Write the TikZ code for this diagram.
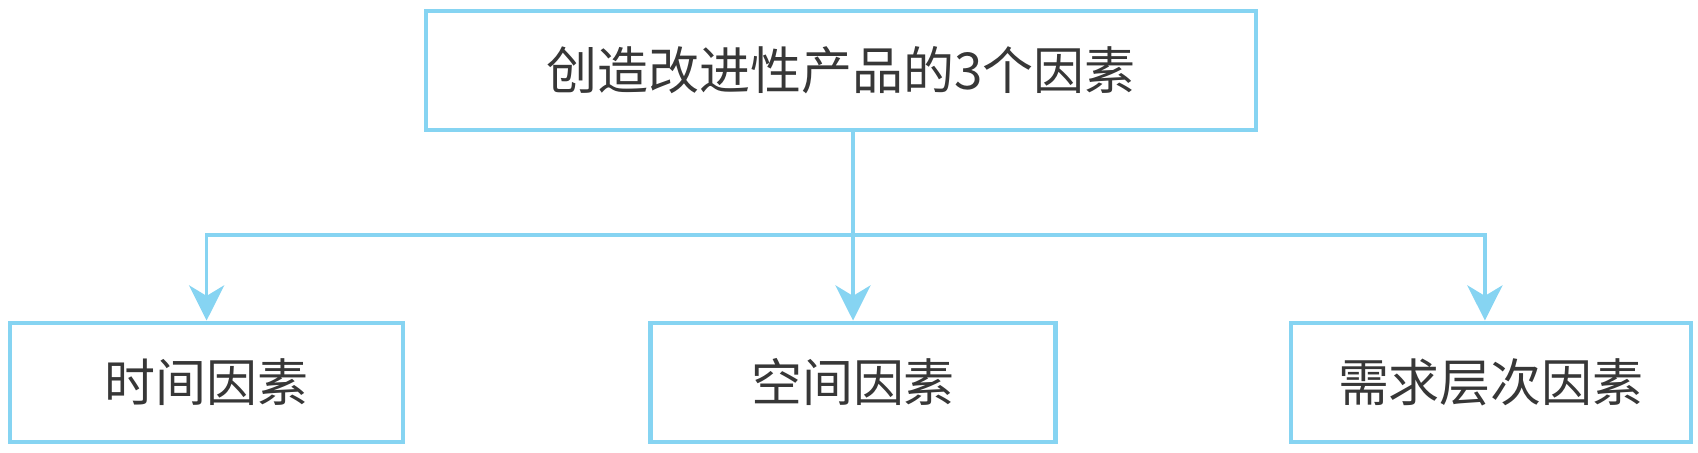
\documentclass[tikz,border=0pt]{standalone}
\usepackage{fontspec}
\setmainfont{Noto Sans CJK SC}
\usepackage{tikz}
\usetikzlibrary{arrows.meta,positioning}

\definecolor{skyline}{RGB}{134,212,242}
\definecolor{inkgray}{RGB}{55,55,55}

\begin{document}
\begin{tikzpicture}[
        every node/.style={draw=skyline, line width=1.25pt, text=inkgray, align=center,
            minimum height=1.19cm, font=\fontsize{14.5}{17}\selectfont},
        factor/.style={minimum width=4cm},
        link/.style={draw=skyline, line width=1pt},
        arr/.style={link, -{Stealth[length=10pt, width=10pt, inset=3pt]}}
    ]
    \useasboundingbox (0,0) rectangle (16.98,4.52);

    % Nodes
    \node (goal) at (8.41,3.816) [minimum width=8.3cm] {创造改进性产品的3个因素};

    \node (space) at (8.53,0.698) [factor, minimum width=4.05cm] {空间因素};
    \node (time) [factor, left=2.43cm of space, minimum width=3.93cm] {时间因素};
    \node (need) [factor, right=2.31cm of space] {需求层次因素};

    \coordinate (fork) at (8.53,2.17);

    % Edges
    \draw[arr] (goal.south -| space.north) -- (space.north);
    \draw[arr] (fork) -| (time.north);
    \draw[arr] (fork) -| ([xshift=-0.06cm]need.north);

\end{tikzpicture}
\end{document}
